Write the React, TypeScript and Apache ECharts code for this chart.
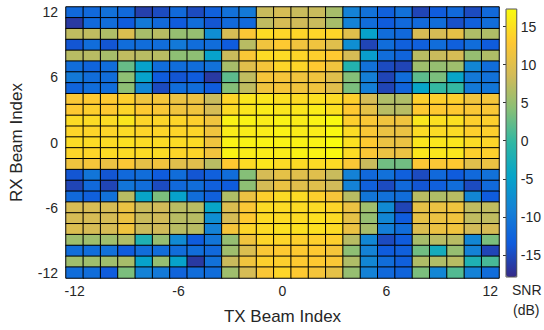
import React, { useEffect, useRef } from "react";
import * as echarts from "echarts";

const txBeams: number[] = Array.from({ length: 25 }, (_, i) => i - 12);
const rxBeams: number[] = Array.from({ length: 25 }, (_, i) => i - 12);
const tickBeams = [-12, -6, 0, 6, 12];
const colorbarTicks = [-15, -10, -5, 0, 5, 10, 15];
const snrMin = -17.9;
const snrMax = 17.3;

// SNR (dB), rows from RX = 12 (top) down to RX = -12; columns TX = -12 .. 12
const rxP12 = [-12, -12, -11, -12, -16, -15, -12, -15, -13, -11, -10, 8, 9, 8, 8, 6, -9, -11, -13, -11, -15.5, -13.5, -12, -15, -12];
const rxP11 = [-16.5, -12, -11.5, -13.5, -10, -12, -13.5, -11.5, -14, -12, -12, 7.5, 9, 8.5, 8, 6, -9, -11.5, -13.5, -12, -12, -11.5, -14.5, -13, -11.5];
const rxP10 = [7.5, 7.5, 6.5, 9.5, 6, 7, 5, 5, -7.5, 9, 12.5, 14.5, 14, 14, 14, 14, 10, -5, -11.5, -12, 9, 9, 10.5, 6.5, 6.5];
const rxP9 = [-14, -11.5, -14, -11.5, -11.5, -11.5, -10, -11.5, -11.5, -13.5, 7, 11.5, 13, 11.5, 11.5, 10, -7.5, -15.5, -11.5, -13, -13, -11.5, -13, -11.5, -13.5];
const rxP8 = [7, 7, 6, 7.5, 7, 7, 4.5, 4.5, -5, 8, 12.5, 14.5, 14.5, 14, 13.5, 13, 9, -5.5, -11.5, -12.5, 7, 8, 9, 5, 6.5];
const rxP7 = [-11.5, -12.5, -11.5, 2.5, -5, -11.5, -11.5, -11.5, -11, 6, 10, 12, 14, 14, 13, 11.5, -1.5, -11, -15, -15.5, 5.5, 5, 5.5, -8.5, -11.5];
const rxP6 = [-10, -11.5, -11.5, 4.5, -5, -13.5, -14, -13.5, -16.5, 2, 7.5, 12, 12, 11.5, 11.5, 10, 4, -9.5, -15.5, -11.5, 2, 3.5, -4.5, -10, -11];
const rxP5 = [-12.5, -11.5, -11.5, 4.5, -8.5, -15, -11.5, -11.5, -13.5, 4, 7.5, 11.5, 12, 11.5, 11.5, 10, 3.5, -9.5, -15.5, -12.5, -4.5, 0, 0, -10, -10.5];
const rxP4 = [12.5, 13, 13, 13.5, 11.5, 12, 11, 11, 8, 14, 15.5, 15.5, 15, 14.5, 15, 14.5, 13.5, 9, 6.5, 6.5, 13.5, 13.5, 13.5, 11.5, 12];
const rxP3 = [13, 13.5, 13, 14, 13, 12.5, 11.5, 11.5, 9, 14.5, 15.5, 16, 15.5, 15.5, 16, 15, 13, 10.5, 7, 7, 13, 13, 13, 12.5, 12.5];
const rxP2 = [14.5, 14.5, 14.5, 15.5, 14, 14, 14, 13.5, 11.5, 16.5, 16.5, 16, 16.5, 16, 16.5, 17, 13.5, 12.5, 11.5, 11.5, 15.5, 15, 15, 13.5, 13.5];
const rxP1 = [14, 14, 14, 14.5, 14, 14, 14, 14, 11.5, 16, 16, 16, 16.5, 16, 16, 17, 14.5, 12.5, 11, 11, 14.5, 14.5, 14.5, 13.5, 13.5];
const rx0 = [14.5, 14.5, 14.5, 15, 14.5, 14.5, 14.5, 14.5, 11.5, 16.5, 16.5, 16.5, 16.5, 16.5, 16.5, 17.3, 15, 13, 11, 11, 15.5, 15.5, 15.5, 14.5, 14];
const rxM1 = [14, 14, 14.5, 14.5, 14.5, 14.5, 14, 14, 11.5, 16.5, 16, 16, 16, 16.5, 16.5, 17, 14.5, 12.5, 11, 11, 15.5, 15.5, 15.5, 13.5, 13.5];
const rxM2 = [11.5, 12, 11, 12.5, 10.5, 11.5, 10, 10, 7, 13, 14.5, 15.5, 14.5, 14.5, 14.5, 14.5, 12.5, 8, 3, 3, 12.5, 12.5, 13, 10, 11];
const rxM3 = [-14, -10.5, -14, -12, -11.5, -13.5, -11.5, -14, -13, -11.5, 4, 9, 10.5, 10, 10, 8, -9, -12, -11, -13, -15, -12, -13.5, -12, -11];
const rxM4 = [-15.5, -12, -15.5, -10.5, -11.5, -15, -12, -11.5, -13, -13.5, 4.5, 9, 11, 10, 10, 8.5, -9, -13, -15, -12, -14, -13, -11.5, -15, -12];
const rxM5 = [-12, -13, -11, 7, -4.5, 3.5, -5, -11.5, -13, 6.5, 11, 13.5, 14.5, 14.5, 13.5, 12, 7, -10.5, -11, -11.5, 7, 6.5, 7, -8.5, -13.5];
const rxM6 = [9, 9, 9, 11, 8, 8.5, 7, 7, -4.5, 9.5, 12.5, 14.5, 14.5, 14.5, 14.5, 14, 11, 5.5, -8, -15.5, 10.5, 11, 11.5, 7.5, 7.5];
const rxM7 = [9, 9, 9, 11, 8, 8.5, 7, 7, -7.5, 9, 13, 14.5, 14.5, 14.5, 15, 14.5, 10.5, 5, -8.5, -13.5, 10.5, 11, 11.5, 7.5, 7.5];
const rxM8 = [9.5, 9, 9, 11.5, 8, 8.5, 7, 7, -9, 12, 14, 14.5, 15, 15, 15, 14.5, 11, 6, -9.5, -11.5, 9.5, 11, 11.5, 8.5, 9];
const rxM9 = [5.5, 5.5, 5.5, 6.5, -2, 5, -8, -13.5, -10.5, 5, 11.5, 14, 14, 13.5, 13.5, 13.5, 7, -8.5, -15, -13.5, 6, 7, 7, -8.5, 3.5];
const rxM10 = [-11.5, -11.5, -11, -13.5, -11.5, -11.5, -11.5, -11.5, -12, 5.5, 9.5, 12.5, 13, 13, 13, 12, 4.5, -9, -13.5, -13, 3, -3, 5, -9, -15.5];
const rxM11 = [5.5, 5.5, 5.5, 6, -5, 5, -5, -16.5, -11, 8, 11.5, 13.5, 13.5, 13, 13, 12.5, 6.5, -8.5, -11.5, -13, 6.5, 6.5, 7, -2, 1];
const rxM12 = [-11.5, -11.5, -13.5, 3.5, -9, -10, -12.5, -11.5, -11.5, 5.5, 9, 12.5, 14, 13, 12, 10.5, 5, -9, -12, -12.5, 3.5, -8.5, 1.5, -9, -11.5];

const snrRowsTopDown = [
  rxP12, rxP11, rxP10, rxP9, rxP8, rxP7, rxP6, rxP5, rxP4, rxP3, rxP2, rxP1, rx0,
  rxM1, rxM2, rxM3, rxM4, rxM5, rxM6, rxM7, rxM8, rxM9, rxM10, rxM11, rxM12,
];

const parula = ["#352A87", "#0F5CDD", "#1481D6", "#06A4CA", "#2EB7A4", "#87BF77", "#D1BB59", "#FEC832", "#F9FB0E"];

const FONT = "'Liberation Sans', Arial, Helvetica, sans-serif";
const TXT = "#262626";

export default function App() {
  const ref = useRef<HTMLDivElement>(null);
  useEffect(() => {
    document.body.style.margin = "0";
    if (!ref.current) return;
    const chart = echarts.init(ref.current, undefined, { renderer: "svg" });
    const n = rxBeams.length;
    const data: number[][] = [];
    snrRowsTopDown.forEach((row, r) => {
      const yi = n - 1 - r;
      row.forEach((v, xi) => data.push([xi, yi, v]));
    });
    const showTick = (idx: number, val: string) => tickBeams.includes(Number(val));
    chart.setOption({
      animation: false,
      textStyle: { fontFamily: FONT },
      grid: [
        { left: 66, top: 7, right: 45, bottom: 52 },
        { left: 506, top: 9, width: 11, height: 268, show: true, borderColor: "#555", borderWidth: 1, z: 10 },
      ],
      xAxis: [
        {
          type: "category",
          gridIndex: 0,
          data: txBeams.map(String),
          name: "TX Beam Index",
          nameLocation: "middle",
          nameGap: 30,
          nameTextStyle: { fontSize: 17, color: TXT, fontFamily: FONT },
          axisLine: { show: false },
          axisTick: { show: true, inside: true, length: 4, alignWithLabel: true, interval: showTick, lineStyle: { color: "#222" } },
          axisLabel: { interval: showTick, fontSize: 14, color: TXT, margin: 6, fontFamily: FONT },
          splitLine: { show: false },
        },
        { type: "value", gridIndex: 1, show: false, min: 0, max: 1 },
      ],
      yAxis: [
        {
          type: "category",
          gridIndex: 0,
          data: rxBeams.map(String),
          name: "RX Beam Index",
          nameLocation: "middle",
          nameGap: 41,
          nameTextStyle: { fontSize: 17, color: TXT, fontFamily: FONT },
          axisLine: { show: false },
          axisTick: { show: true, inside: true, length: 4, alignWithLabel: true, interval: showTick, lineStyle: { color: "#222" } },
          axisLabel: { interval: showTick, fontSize: 14, color: TXT, margin: 8, fontFamily: FONT },
          splitLine: { show: false },
        },
        {
          type: "value",
          gridIndex: 1,
          position: "right",
          min: snrMin,
          max: snrMax,
          axisLine: { show: false },
          splitLine: { show: false },
          axisTick: { show: true, inside: true, length: 3, customValues: colorbarTicks, lineStyle: { color: "#333" } },
          axisLabel: { show: true, customValues: colorbarTicks, fontSize: 14, color: TXT, margin: 4, fontFamily: FONT },
        },
      ],
      visualMap: {
        type: "continuous",
        seriesIndex: 0,
        min: snrMin,
        max: snrMax,
        calculable: false,
        left: 506,
        top: 9,
        itemWidth: 11,
        itemHeight: 268,
        padding: 0,
        inRange: { color: parula },
      },
      graphic: [
        { type: "text", left: 512, top: 283, style: { text: "SNR", fontSize: 14, fill: TXT, font: `14px ${FONT}` } },
        { type: "text", left: 513, top: 303, style: { text: "(dB)", fontSize: 14, fill: TXT, font: `14px ${FONT}` } },
      ],
      series: [
        {
          type: "heatmap",
          xAxisIndex: 0,
          yAxisIndex: 0,
          data,
          itemStyle: { borderColor: "#000", borderWidth: 1 },
          emphasis: { disabled: true },
        },
      ],
    });
    return () => chart.dispose();
  }, []);
  return <div ref={ref} style={{ width: 544, height: 330 }} />;
}
